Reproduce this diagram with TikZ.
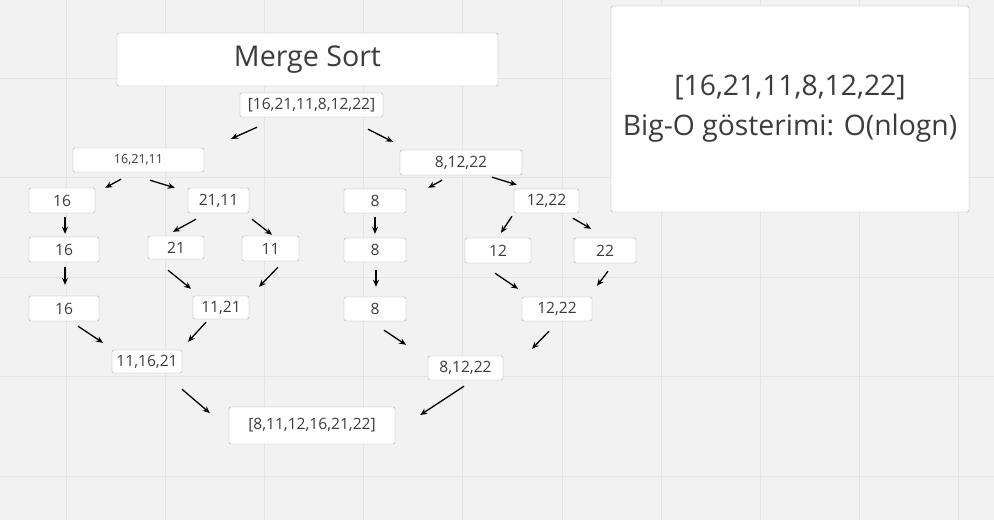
\documentclass[tikz,border=0pt]{standalone}
\usepackage{fontspec}
\setmainfont{Open Sans}
\definecolor{BoardBg}{HTML}{F2F2F2}
\definecolor{GridLine}{HTML}{E4E4E4}
\definecolor{BoxEdge}{HTML}{A9A9A9}
\definecolor{InkGray}{HTML}{3C3C3C}
\usetikzlibrary{arrows.meta}

\begin{document}
\begin{tikzpicture}[x=1pt, y=-1pt,
    numbox/.style={draw=BoxEdge, fill=white, rounded corners=1.5pt, inner sep=0pt,
                   text=InkGray, font=\fontsize{15.6}{18}\selectfont},
    wh/.style 2 args={minimum width=#1pt, minimum height=#2pt},
    arr/.style={line width=1.3pt, -{Stealth[length=7pt, width=6pt]}}]
  \fill[BoardBg] (0,0) rectangle (994,520);
  \useasboundingbox (0,0) rectangle (994,520);
  \foreach \gx in {0,...,9}
    \draw[GridLine, line width=1pt] ({66+99.2*\gx},0) -- ++(0,520);
  \foreach \gy in {0,...,4}
    \draw[GridLine, line width=1pt] (0,{78+99.5*\gy}) -- ++(994,0);

  \node[numbox, wh={381}{53}, font=\fontsize{28.6}{32}\selectfont] (title) at (307.5,59.5) {Merge Sort};
  \node[numbox, wh={358}{206}, align=center, font=\fontsize{28.3}{40}\selectfont] (info) at (790,109)
    {[16,21,11,8,12,22]\\Big-O gösterimi: O(nlogn)};

  \node[numbox, wh={143}{24}] (root) at (311.5,105) {[16,21,11,8,12,22]};
  \node[numbox, wh={131}{24}, font=\fontsize{12.5}{14}\selectfont] (l) at (138.5,160) {16,21,11};
  \node[numbox, wh={122}{25}] (r) at (461,162.5) {8,12,22};

  \node[numbox, wh={66}{25}] (l1) at (62,200.5) {16};
  \node[numbox, wh={61}{25}] (l2) at (218.5,200.5) {21,11};
  \node[numbox, wh={62}{24}] (r1) at (375,201) {8};
  \node[numbox, wh={65}{24}] (r2) at (546.5,201) {12,22};

  \node[numbox, wh={70}{25}] (l1b) at (64,249.5) {16};
  \node[numbox, wh={56}{23}] (l2a) at (176,247.5) {21};
  \node[numbox, wh={57}{25}] (l2b) at (270.5,248.5) {11};
  \node[numbox, wh={62}{24}] (r1b) at (375,250) {8};
  \node[numbox, wh={66}{25}] (r2a) at (498,250.5) {12};
  \node[numbox, wh={62}{25}] (r2b) at (605,250.5) {22};

  \node[numbox, wh={70}{25}] (l1c) at (64,308.5) {16};
  \node[numbox, wh={56}{23}] (l2m) at (221,307.5) {11,21};
  \node[numbox, wh={62}{24}] (r1c) at (375,309) {8};
  \node[numbox, wh={70}{24}] (r2m) at (557,309) {12,22};

  \node[numbox, wh={70}{23}] (lm) at (147,361.5) {11,16,21};
  \node[numbox, wh={75}{24}] (rm) at (465.5,368) {8,12,22};

  \node[numbox, wh={166}{37}] (final) at (312,425.5) {[8,11,12,16,21,22]};

  \draw[arr] ([shift={(-54.5,10)}]root.south) -- ([shift={(27,-9)}]l.north east);
  \draw[arr] ([shift={(56.5,12)}]root.south) -- ([shift={(-7,-8)}]r.north west);
  \draw[arr] ([shift={(-17.5,7)}]l.south) -- ([shift={(10,0)}]l1.north east);
  \draw[arr] ([shift={(11.5,8)}]l.south) -- ([shift={(-13,0)}]l2.north west);
  \draw[arr] ([shift={(-19,5)}]r.south) -- ([shift={(22,-1)}]r1.north east);
  \draw[arr] ([shift={(31,2)}]r.south) -- ([shift={(3,-4)}]r2.north west);

  \draw[arr] ([shift={(3,4)}]l1.south) -- ([shift={(1,-3)}]l1b.north);
  \draw[arr] ([shift={(1,5)}]l1b.south) -- ([shift={(1,-11)}]l1c.north);
  \draw[arr] ([shift={(-22.5,6)}]l2.south) -- ([shift={(-3,-4)}]l2a.north);
  \draw[arr] ([shift={(33.5,6)}]l2.south) -- ([shift={(1.5,-1)}]l2b.north);
  \draw[arr] ([shift={(-8,11)}]l2a.south) -- ([shift={(-30,-7)}]l2m.north);
  \draw[arr] ([shift={(7.5,6)}]l2b.south) -- ([shift={(38,-9)}]l2m.north);
  \draw[arr] ([shift={(14,5)}]l1c.south) -- ([shift={(-44,-7)}]lm.north);
  \draw[arr] ([shift={(-15,3)}]l2m.south) -- ([shift={(41,-8)}]lm.north);

  \draw[arr] ([shift={(0,4)}]r1.south) -- ([shift={(0,-4)}]r1b.north);
  \draw[arr] ([shift={(1,8)}]r1b.south) -- ([shift={(1,-10)}]r1c.north);
  \draw[arr] ([shift={(-34.5,3)}]r2.south) -- ([shift={(3,-5)}]r2a.north);
  \draw[arr] ([shift={(26.5,5)}]r2.south) -- ([shift={(-14,-9)}]r2b.north);
  \draw[arr] ([shift={(-3,10)}]r2a.south) -- ([shift={(-39,-8)}]r2m.north);
  \draw[arr] ([shift={(3,8)}]r2b.south) -- ([shift={(40,-11)}]r2m.north);
  \draw[arr] ([shift={(9,9)}]r1c.south) -- ([shift={(-59.5,-11)}]rm.north);
  \draw[arr] ([shift={(-8,10)}]r2m.south) -- ([shift={(66.5,-7)}]rm.north);

  \draw[arr] ([shift={(35,16)}]lm.south) -- ([shift={(-19,-12.5)}]final.west);
  \draw[arr] ([shift={(-1.5,6)}]rm.south) -- ([shift={(25,-10.5)}]final.east);
\end{tikzpicture}
\end{document}
